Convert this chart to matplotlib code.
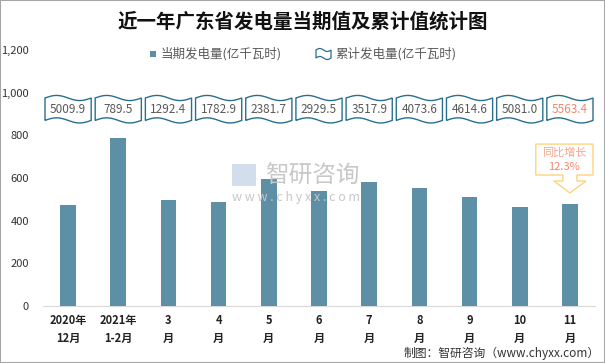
import matplotlib
matplotlib.use('Agg')
import matplotlib.pyplot as plt
import numpy as np
from matplotlib.patches import Rectangle, Polygon

plt.rcParams['font.family'] = ['Noto Sans CJK SC', 'DejaVu Sans']

months = ["2020年\n12月", "2021年\n1-2月", "3\n月", "4\n月", "5\n月", "6\n月",
          "7\n月", "8\n月", "9\n月", "10\n月", "11\n月"]
current = [473, 789.5, 497, 488, 595, 540, 583, 555, 512, 462, 480]
cumulative = ["5009.9", "789.5", "1292.4", "1782.9", "2381.7", "2929.5",
              "3517.9", "4073.6", "4614.6", "5081.0", "5563.4"]
yoy = "12.3%"

bar_color = '#5d90a7'
wave_color = '#2a6f8f'
text_gray = '#595959'
salmon = '#f4866c'

W, H = 605, 363
fig = plt.figure(figsize=(W / 100, H / 100), dpi=100)
ax = fig.add_axes([43 / W, 1 - 306 / H, 552 / W, 256 / H])

x = np.arange(len(months))
ax.bar(x, current, width=0.31, color=bar_color, zorder=3)
ax.set_xlim(-0.5, len(months) - 0.5)
ax.set_ylim(0, 1200)
ax.set_yticks(range(0, 1201, 200))
ax.set_yticklabels([f'{v:,}' for v in range(0, 1201, 200)], fontsize=8, color='#333333')
ax.set_xticks(x)
ax.set_xticklabels(months, fontsize=8, fontweight='bold', color='#222222', linespacing=1.5)
ax.tick_params(length=0)
ax.tick_params(axis='y', pad=10)
ax.tick_params(axis='x', pad=6)
for s in ['top', 'right', 'left']:
    ax.spines[s].set_visible(False)
ax.spines['bottom'].set_color('#d9d9d9')

# wave boxes with cumulative values
t = np.linspace(0, 1, 60)
ytop, ybot, amp = 975, 870, 12
for i, val in enumerate(cumulative):
    xs = i - 0.46 + 0.92 * t
    top = ytop + amp * np.sin(2 * np.pi * t)
    bot = ybot + amp * np.sin(2 * np.pi * t)
    verts = list(zip(xs, top)) + list(zip(xs[::-1], bot[::-1]))
    ax.add_patch(Polygon(verts, closed=True, facecolor='white', edgecolor=wave_color,
                         linewidth=1, zorder=4))
    col = salmon if i == len(cumulative) - 1 else text_gray
    ax.text(i, 919, val, ha='center', va='center', fontsize=8.5, color=col, zorder=5)

# callout for yoy growth
bx0, bx1, by0, by1 = 9.32, 10.46, 614, 759
callout = [(bx0, by1), (bx1, by1), (bx1, by0), (10.14, by0), (10.14, 586), (10.32, 586),
           (10.0, 530), (9.68, 586), (9.86, 586), (9.86, by0), (bx0, by0)]
ax.add_patch(Polygon(callout, closed=True, facecolor='white', edgecolor='#ffd27f',
                     linewidth=1, zorder=4, clip_on=False))
ax.text((bx0 + bx1) / 2, 718, '同比增长', ha='center', va='center', fontsize=8,
        color='#f4a58a', zorder=5)
ax.text((bx0 + bx1) / 2, 652, yoy, ha='center', va='center', fontsize=8,
        color='#f4866c', zorder=5)

# watermark
fig.text(265 / W, 1 - 176 / H, '智研咨询', fontsize=17, color='#c8c8c8', va='center',
         ha='left', zorder=1)
fig.text(232 / W, 1 - 198 / H, 'w w w . c h y x x . c o m', fontsize=9, color='#c8c8c8',
         va='center', ha='left', zorder=1)
fig.patches.append(Rectangle((232 / W, 1 - 186 / H), 24 / W, 22 / H, transform=fig.transFigure,
                             facecolor='#d3deec', edgecolor='none', zorder=0))

# title
fig.text(0.5, 1 - 22 / H, '近一年广东省发电量当期值及累计值统计图', ha='center', va='center',
         fontsize=14, fontweight='bold', color='#111111')

# legend
fig.patches.append(Rectangle((150 / W, 1 - 57 / H), 6 / W, 6 / H, transform=fig.transFigure,
                             facecolor=bar_color, edgecolor='none'))
fig.text(161 / W, 1 - 54 / H, '当期发电量(亿千瓦时)', ha='left', va='center', fontsize=9,
         color=text_gray)
lt = np.linspace(0, 1, 30)
lx = (316 + 15 * lt) / W
ltop = 1 - (50 - 1.5 * np.sin(2 * np.pi * lt)) / H
lbot = 1 - (58 - 1.5 * np.sin(2 * np.pi * lt)) / H
lverts = list(zip(lx, ltop)) + list(zip(lx[::-1], lbot[::-1]))
fig.patches.append(Polygon(lverts, closed=True, transform=fig.transFigure, facecolor='white',
                           edgecolor=wave_color, linewidth=0.9))
fig.text(335 / W, 1 - 54 / H, '累计发电量(亿千瓦时)', ha='left', va='center', fontsize=9,
         color=text_gray)

# source
fig.text(600 / W, 1 - 353 / H, '制图：智研咨询（www.chyxx.com）', ha='right', va='center',
         fontsize=8.5, color='#333333')

# frame
fig.patches.append(Rectangle((0, 0), 1, 1, transform=fig.transFigure, facecolor='none',
                             edgecolor='#a6a6a6', linewidth=1.5))

fig.savefig('out.png', dpi=100)
